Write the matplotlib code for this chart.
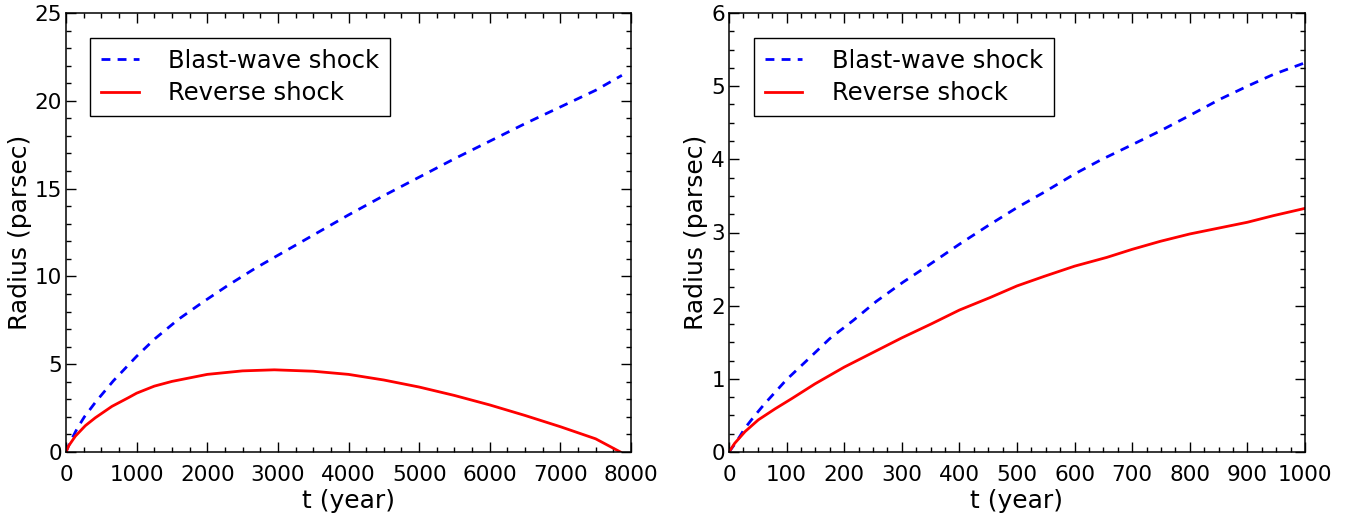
import matplotlib
matplotlib.use("Agg")
import matplotlib.pyplot as plt
from matplotlib.ticker import MultipleLocator

# left panel: full evolution
t_blast_left = [0, 57, 160, 260, 420, 670, 1000, 1259, 1590, 1943, 2297,
                2675, 3000, 3500, 4000, 4500, 5000, 5500, 6000, 6500, 7000,
                7500, 7871]
blast_left = [0, 0.55, 1.35, 2.0, 2.85, 4.05, 5.45, 6.45, 7.55, 8.55, 9.5,
              10.45, 11.2, 12.35, 13.5, 14.6, 15.65, 16.7, 17.7, 18.7, 19.65,
              20.6, 21.45]
t_rev_left = [0, 38, 132, 274, 415, 651, 887, 1000, 1250, 1500, 2000, 2500,
              2950, 3500, 4000, 4500, 5000, 5500, 6000, 6500, 7000, 7500, 7850]
rev_left = [0, 0.35, 0.9, 1.5, 1.95, 2.6, 3.1, 3.35, 3.75, 4.02, 4.42, 4.62,
            4.68, 4.6, 4.42, 4.1, 3.7, 3.22, 2.68, 2.08, 1.44, 0.75, 0.0]

# right panel: first 1000 years
t_blast_right = [0, 13, 28, 45, 62, 100, 135, 175, 216, 256, 302, 346, 400,
                 449, 500, 547, 600, 645, 700, 749, 800, 852, 900, 945, 1000]
blast_right = [0, 0.14, 0.33, 0.5, 0.66, 0.99, 1.25, 1.55, 1.8, 2.06, 2.32,
               2.55, 2.84, 3.09, 3.34, 3.55, 3.80, 3.99, 4.2, 4.39, 4.6, 4.82,
               5.0, 5.16, 5.32]
t_rev_right = [0, 10, 28, 51, 80, 109, 149, 200, 250, 300, 351, 400, 453, 500,
               547, 600, 656, 700, 749, 800, 850, 900, 945, 1000]
rev_right = [0, 0.12, 0.28, 0.44, 0.59, 0.73, 0.93, 1.16, 1.36, 1.56, 1.75,
             1.94, 2.11, 2.27, 2.40, 2.54, 2.66, 2.77, 2.88, 2.98, 3.06, 3.14,
             3.23, 3.33]

fig = plt.figure(figsize=(13.61, 5.17), dpi=100)
ax1 = fig.add_axes([66/1361, 65/517, 565/1361, 439/517])
ax2 = fig.add_axes([729/1361, 65/517, 576/1361, 439/517])


def style_axes(ax, xmax, ymax, xmaj, xmin, ymaj, ymin):
    ax.set_xlim(0, xmax)
    ax.set_ylim(0, ymax)
    ax.xaxis.set_major_locator(MultipleLocator(xmaj))
    ax.xaxis.set_minor_locator(MultipleLocator(xmin))
    ax.yaxis.set_major_locator(MultipleLocator(ymaj))
    ax.yaxis.set_minor_locator(MultipleLocator(ymin))
    ax.tick_params(which="both", direction="in", top=True, right=True,
                   labelsize=15.5, width=1)
    ax.tick_params(axis="x", which="both", pad=9.5)
    ax.tick_params(axis="y", which="both", pad=3)
    ax.tick_params(which="major", length=7)
    ax.tick_params(which="minor", length=3.6)
    for s in ax.spines.values():
        s.set_linewidth(1.1)
    ax.set_xlabel("t (year)", fontsize=18, labelpad=3)
    ax.set_ylabel("Radius (parsec)", fontsize=18, labelpad=2)


ax1.plot(t_blast_left, blast_left, color="blue", lw=2, dashes=(3.2, 2.6),
         label="Blast-wave shock")
ax1.plot(t_rev_left, rev_left, color="red", lw=2, label="Reverse shock")
style_axes(ax1, 8000, 25, 1000, 250, 5, 1)

ax2.plot(t_blast_right, blast_right, color="blue", lw=2, dashes=(3.2, 2.6),
         label="Blast-wave shock")
ax2.plot(t_rev_right, rev_right, color="red", lw=2, label="Reverse shock")
style_axes(ax2, 1000, 6, 100, 25, 1, 0.25)

for ax in (ax1, ax2):
    leg = ax.legend(loc="upper left", bbox_to_anchor=(0.043, 0.943),
                    borderaxespad=0, fontsize=17.5, fancybox=False,
                    framealpha=1, edgecolor="black", handlelength=1.55,
                    handletextpad=1.2, borderpad=0.45, labelspacing=0.35)
    leg.get_frame().set_linewidth(1)

fig.savefig("out.png", dpi=100)
